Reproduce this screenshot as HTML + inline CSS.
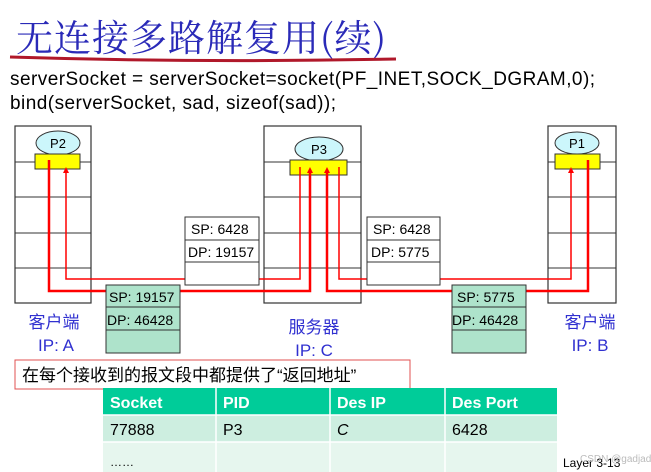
<!DOCTYPE html>
<html><head><meta charset="utf-8"><style>
body{margin:0;width:651px;height:472px;background:#fff;overflow:hidden;position:relative;font-family:"Liberation Sans","Noto Sans CJK SC",sans-serif}
.a{position:absolute}
</style></head><body>
<svg class="a" style="left:0;top:0" width="651" height="472" xmlns="http://www.w3.org/2000/svg">
<text x="16" y="51" font-size="37" fill="#2a2ab8" font-family="Noto Serif CJK SC, serif" textLength="370">无连接多路解复用(续)</text>
<path d="M10 57 Q200 63 396 59" stroke="#b0182a" stroke-width="3" fill="none"/>
<text x="10" y="85" font-size="19" fill="#000" font-family="Liberation Sans, sans-serif" textLength="585">serverSocket = serverSocket=socket(PF_INET,SOCK_DGRAM,0);</text>
<text x="10" y="109" font-size="19" fill="#000" font-family="Liberation Sans, sans-serif" textLength="326">bind(serverSocket, sad, sizeof(sad));</text>
<g stroke="#333" stroke-width="1.2" fill="#fff">
<rect x="15" y="126" width="76" height="177"/>
<rect x="264" y="126" width="97" height="177"/>
<rect x="548" y="126" width="68" height="177"/>
</g>
<g stroke="#333" stroke-width="1">
<path d="M15 162H91M15 197H91M15 233H91M15 268H91"/>
<path d="M264 162H361M264 197H361M264 233H361M264 268H361"/>
<path d="M548 162H616M548 197H616M548 233H616M548 268H616"/>
</g>
<g stroke="#333" fill="#ccf6fb"><ellipse cx="58" cy="143" rx="22" ry="12"/><ellipse cx="319" cy="149" rx="24" ry="12"/><ellipse cx="577" cy="143" rx="22" ry="11"/></g>
<g font-size="13" text-anchor="middle" fill="#000"><text x="58" y="148">P2</text><text x="319" y="154">P3</text><text x="577" y="148">P1</text></g>
<g stroke="#333" fill="#ffff00"><rect x="35" y="154" width="45" height="15"/><rect x="290" y="160" width="57" height="15"/><rect x="555" y="154" width="45" height="15"/></g>
<g stroke="#f00" fill="none">
<path d="M49 160V291H310V172" stroke-width="2.5"/>
<path d="M66 171V279H300V167" stroke-width="1.5"/>
<path d="M339 167V279H571V171" stroke-width="1.5"/>
<path d="M588 160V291H327V172" stroke-width="2.5"/>
</g>
<g fill="#f00"><path d="M66 167l-3 6h6z"/><path d="M310 167l-3 6h6z"/><path d="M327 167l-3 6h6z"/><path d="M571 167l-3 6h6z"/></g>
<g stroke="#333" fill="#fff"><rect x="185" y="217" width="74" height="68"/><rect x="367" y="217" width="73" height="68"/></g>
<g stroke="#333" fill="#aee3cb"><rect x="106" y="285" width="74" height="68"/><rect x="452" y="285" width="74" height="68"/></g>
<g stroke="#333"><path d="M185 240H259M185 262H259M367 240H440M367 262H440M106 307H180M106 330H180M452 307H526M452 330H526"/></g>
<g font-size="14" fill="#000"><text x="191" y="234">SP: 6428</text><text x="188" y="257">DP: 19157</text>
<text x="373" y="234">SP: 6428</text><text x="371" y="257">DP: 5775</text>
<text x="109" y="302">SP: 19157</text><text x="107" y="325">DP: 46428</text>
<text x="457" y="302">SP: 5775</text><text x="452" y="325">DP: 46428</text></g>
<g font-size="17" fill="#3030d0" text-anchor="middle"><text x="54" y="328">客户端</text><text x="56" y="351">IP: A</text>
<text x="314" y="333">服务器</text><text x="314" y="356">IP: C</text>
<text x="590" y="328">客户端</text><text x="590" y="351">IP: B</text></g>
<rect x="15" y="360" width="395" height="29" fill="#fff" stroke="#e05050"/>
<text x="22" y="381" font-size="17" fill="#000">在每个接收到的报文段中都提供了“返回地址”</text>
<rect x="103" y="388" width="454" height="27" fill="#00cc99"/>
<rect x="103" y="415" width="454" height="27" fill="#cdeee0"/>
<rect x="103" y="442" width="454" height="30" fill="#e6f6ee"/>
<g stroke="#fff" stroke-width="1.5"><path d="M216 388V472M330 388V472M445 388V472M103 415H557M103 442H557"/></g>
<g font-size="16" font-weight="bold" fill="#fff"><text x="110" y="408">Socket</text><text x="223" y="408">PID</text><text x="337" y="408">Des IP</text><text x="452" y="408">Des Port</text></g>
<g font-size="16" fill="#000"><text x="110" y="435">77888</text><text x="223" y="435">P3</text><text x="337" y="435" font-style="italic">C</text><text x="452" y="435">6428</text><text x="110" y="466" font-size="12">……</text></g>
<text x="563" y="467" font-size="12" fill="#000">Layer  3-13</text>
<text x="580" y="462" font-size="10" fill="#bbb">CSDN @gadjada</text>
</svg>
</body></html>
